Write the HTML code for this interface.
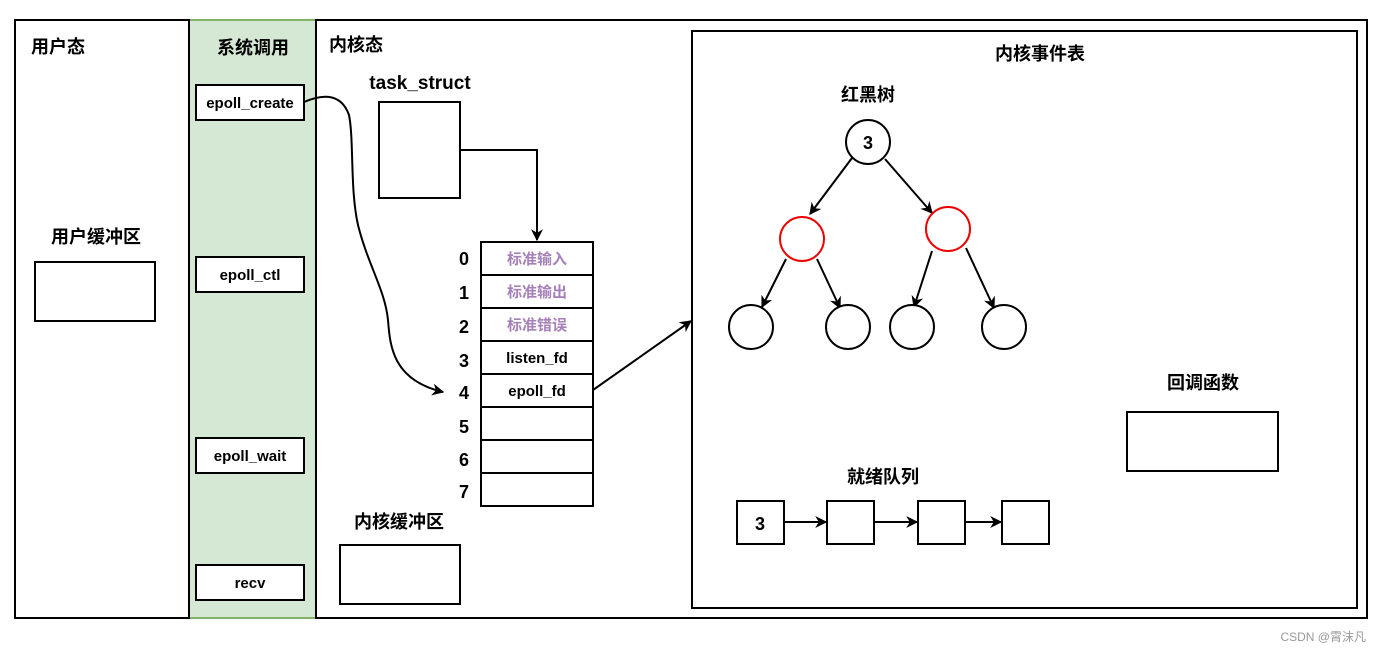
<!DOCTYPE html>
<html><head><meta charset="utf-8"><style>
html,body{margin:0;padding:0;background:#fff;}
svg text{font-family:"Liberation Sans","Noto Sans CJK SC",sans-serif;font-weight:bold;}
</style></head><body>
<svg width="1381" height="653" viewBox="0 0 1381 653" xmlns="http://www.w3.org/2000/svg">
<defs>
<marker id="a" viewBox="0 0 10 10" refX="9" refY="5" markerWidth="6" markerHeight="6" markerUnits="strokeWidth" orient="auto"><path d="M0,0 L10,5 L0,10 L3,5 z" fill="#000"/></marker>
</defs>
<rect x="189" y="20" width="127" height="598" fill="#d5e8d4" stroke="#82b366" stroke-width="2"/>
<rect x="15" y="20" width="174" height="598" fill="none" stroke="#000" stroke-width="2"/>
<rect x="316" y="20" width="1051" height="598" fill="none" stroke="#000" stroke-width="2"/>
<line x1="189" y1="20" x2="189" y2="618" stroke="#000" stroke-width="2"/>
<rect x="692" y="31" width="665" height="577" fill="none" stroke="#000" stroke-width="2"/>
<g font-size="18">
<text x="31" y="53">用户态</text>
<text x="253" y="54" text-anchor="middle">系统调用</text>
<text x="329" y="51">内核态</text>
<text x="96" y="243" text-anchor="middle">用户缓冲区</text>
<text x="420" y="89" text-anchor="middle" font-size="19">task_struct</text>
<text x="399" y="528" text-anchor="middle">内核缓冲区</text>
<text x="1040" y="60" text-anchor="middle">内核事件表</text>
<text x="868" y="101" text-anchor="middle">红黑树</text>
<text x="1203" y="389" text-anchor="middle">回调函数</text>
<text x="883" y="483" text-anchor="middle">就绪队列</text>
</g>
<g fill="#fff" stroke="#000" stroke-width="2">
<rect x="35" y="262" width="120" height="59"/>
<rect x="196" y="85" width="108" height="35"/>
<rect x="196" y="257" width="108" height="35"/>
<rect x="196" y="438" width="108" height="35"/>
<rect x="196" y="565" width="108" height="35"/>
<rect x="379" y="102" width="81" height="96"/>
<rect x="340" y="545" width="120" height="59"/>
<rect x="1127" y="412" width="151" height="59"/>
<rect x="737" y="501" width="47" height="43"/>
<rect x="827" y="501" width="47" height="43"/>
<rect x="918" y="501" width="47" height="43"/>
<rect x="1002" y="501" width="47" height="43"/>
</g>
<g font-size="15" text-anchor="middle">
<text x="250" y="108">epoll_create</text>
<text x="250" y="280">epoll_ctl</text>
<text x="250" y="461">epoll_wait</text>
<text x="250" y="588">recv</text>
</g>
<g fill="none" stroke="#000" stroke-width="2">
<rect x="481" y="242" width="112" height="264"/>
<line x1="481" y1="275" x2="593" y2="275"/>
<line x1="481" y1="308" x2="593" y2="308"/>
<line x1="481" y1="341" x2="593" y2="341"/>
<line x1="481" y1="374" x2="593" y2="374"/>
<line x1="481" y1="407" x2="593" y2="407"/>
<line x1="481" y1="440" x2="593" y2="440"/>
<line x1="481" y1="473" x2="593" y2="473"/>
</g>
<g font-size="15" text-anchor="middle">
<text x="537" y="264" fill="#a680b8">标准输入</text>
<text x="537" y="297" fill="#a680b8">标准输出</text>
<text x="537" y="330" fill="#a680b8">标准错误</text>
<text x="537" y="363">listen_fd</text>
<text x="537" y="396">epoll_fd</text>
</g>
<g font-size="18" text-anchor="middle">
<text x="464" y="265">0</text><text x="464" y="299">1</text><text x="464" y="333">2</text>
<text x="464" y="367">3</text><text x="464" y="399">4</text><text x="464" y="433">5</text>
<text x="464" y="466">6</text><text x="464" y="498">7</text>
</g>
<g fill="none" stroke="#000" stroke-width="2" marker-end="url(#a)">
<polyline points="460,150 537,150 537,240"/>
<path d="M304,102 C318,96 340,90 349,115 C354,140 350,190 358,225 C368,265 385,290 388,320 C390,345 392,380 443,392"/>
<line x1="593" y1="390" x2="691" y2="321"/>
<line x1="852" y1="158" x2="810" y2="214"/>
<line x1="885" y1="159" x2="932" y2="213"/>
<line x1="786" y1="259" x2="762" y2="307"/>
<line x1="817" y1="259" x2="840" y2="308"/>
<line x1="932" y1="251" x2="914" y2="307"/>
<line x1="966" y1="248" x2="994" y2="308"/>
<line x1="784" y1="522" x2="826" y2="522"/>
<line x1="874" y1="522" x2="917" y2="522"/>
<line x1="965" y1="522" x2="1001" y2="522"/>
</g>
<g fill="#fff" stroke="#000" stroke-width="2">
<circle cx="868" cy="142" r="22"/>
<circle cx="802" cy="239" r="22" stroke="#e00"/>
<circle cx="948" cy="229" r="22" stroke="#e00"/>
<circle cx="751" cy="327" r="22"/>
<circle cx="848" cy="327" r="22"/>
<circle cx="912" cy="327" r="22"/>
<circle cx="1004" cy="327" r="22"/>
</g>
<text x="868" y="149" font-size="18" text-anchor="middle">3</text>
<text x="760" y="530" font-size="18" text-anchor="middle">3</text>
<text x="1366" y="641" font-size="12" fill="#999" text-anchor="end" style="font-weight:normal">CSDN @霄沫凡</text>
</svg>
</body></html>
